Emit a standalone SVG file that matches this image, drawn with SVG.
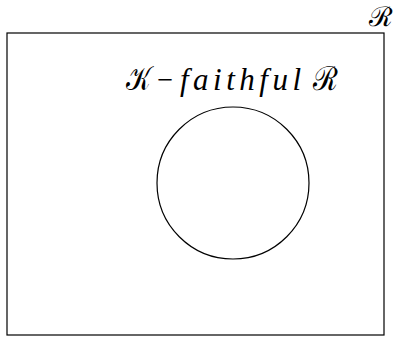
<svg xmlns="http://www.w3.org/2000/svg" width="398" height="339" viewBox="0 0 398 339">
<style>
.ln{fill:none;stroke:#000;stroke-width:1.2}
.t{font-family:"Liberation Serif","DejaVu Serif",serif;font-size:31px;fill:#000}
.s{font-family:"DejaVu Serif",serif;font-size:33px;fill:#000}
.i{font-style:italic}
</style>
<rect width="398" height="339" fill="#fff"/>
<g id="universe">
<rect class="ln" x="7" y="33" width="377" height="302"/>
<text class="s" x="369" y="26" style="font-size:27px" textLength="24" lengthAdjust="spacingAndGlyphs">ℛ</text>
</g>
<g id="faithful">
<circle class="ln" cx="233" cy="183" r="76"/>
<text class="s" x="126" y="90" textLength="25" lengthAdjust="spacingAndGlyphs">𝒦</text>
<text class="t" x="157" y="90" textLength="16" lengthAdjust="spacingAndGlyphs">−</text>
<text class="t i" x="180" y="90" textLength="121" lengthAdjust="spacing">faithful</text>
<text class="s" x="313" y="90" textLength="25" lengthAdjust="spacingAndGlyphs">ℛ</text>
</g>
<g id="connectors"></g>
</svg>
